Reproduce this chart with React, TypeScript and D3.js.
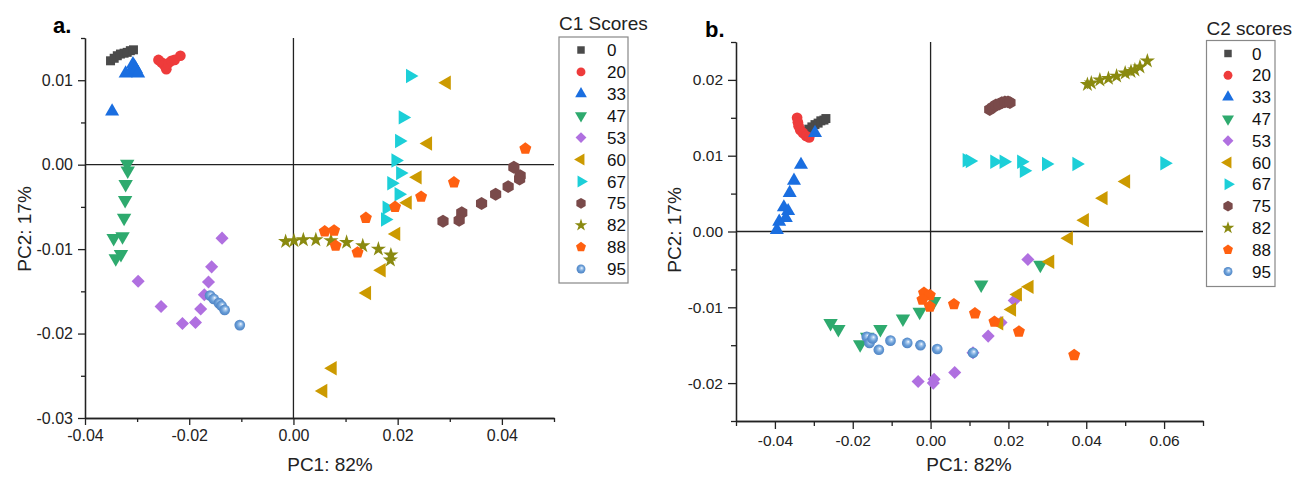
import { useEffect, useRef } from 'react';
import * as d3 from 'd3';

type Pt = [number, number];

// score groups (legend order)
const scoreLabels = ['0', '20', '33', '47', '53', '60', '67', '75', '82', '88', '95'];
const scoreColors = ['#4a4a4a', '#ee3b3b', '#1a6ee0', '#2eaa6e', '#b070e0', '#cc9a00', '#1ccfd8', '#7a4a4a', '#8a8a10', '#ff6010', '#6a9fd8'];

// panel a: C1 scores
const c1_0: Pt[] = [[-0.0351, 0.0123], [-0.0344, 0.0126], [-0.0338, 0.0129], [-0.0332, 0.0131], [-0.0325, 0.0132], [-0.0319, 0.0133], [-0.0313, 0.0135], [-0.0307, 0.0136]];
const c1_20: Pt[] = [[-0.0259, 0.0124], [-0.0253, 0.0121], [-0.0248, 0.0118], [-0.0244, 0.0113], [-0.024, 0.012], [-0.0234, 0.0123], [-0.0228, 0.0124], [-0.0217, 0.0129]];
const c1_33: Pt[] = [[-0.0348, 0.0063], [-0.0322, 0.0108], [-0.0314, 0.0109], [-0.0306, 0.0109], [-0.0305, 0.0116], [-0.0308, 0.0119], [-0.0302, 0.0113], [-0.0298, 0.0108]];
const c1_47: Pt[] = [[-0.0319, 0.0001], [-0.0318, -0.0007], [-0.0322, -0.0023], [-0.0323, -0.0042], [-0.0325, -0.0063], [-0.0345, -0.0087], [-0.0328, -0.0085], [-0.0341, -0.0111], [-0.0331, -0.0106]];
const c1_53: Pt[] = [[-0.0137, -0.0087], [-0.0157, -0.0121], [-0.0163, -0.0139], [-0.0171, -0.0154], [-0.0298, -0.0138], [-0.0254, -0.0168], [-0.0178, -0.0171], [-0.0213, -0.0188], [-0.0188, -0.0187]];
const c1_60: Pt[] = [[0.0294, 0.0097], [0.0258, 0.0025], [0.0238, -0.0015], [0.0219, -0.0045], [0.0197, -0.0082], [0.0169, -0.0125], [0.0141, -0.0152], [0.0075, -0.0241], [0.0057, -0.0268]];
const c1_67: Pt[] = [[0.0224, 0.0105], [0.021, 0.0056], [0.0203, 0.0028], [0.0196, 0.0005], [0.0205, -0.001], [0.0188, -0.0022], [0.0202, -0.0035], [0.0179, -0.0051], [0.0176, -0.0065]];
const c1_75: Pt[] = [[0.0423, -0.0003], [0.0435, -0.0013], [0.0434, -0.0017], [0.0412, -0.0026], [0.0388, -0.0035], [0.0361, -0.0046], [0.0323, -0.0057], [0.0318, -0.0066], [0.0287, -0.0067]];
const c1_82: Pt[] = [[-0.0015, -0.0091], [0.0001, -0.009], [0.0019, -0.0089], [0.0043, -0.0089], [0.0072, -0.009], [0.0102, -0.0092], [0.0133, -0.0096], [0.0163, -0.01], [0.0187, -0.0107], [0.0186, -0.0113]];
const c1_88: Pt[] = [[0.0445, 0.0019], [0.0308, -0.0021], [0.0245, -0.0038], [0.0195, -0.005], [0.0139, -0.0063], [0.006, -0.0079], [0.0078, -0.0078], [0.0081, -0.0096], [0.0123, -0.0104]];
const c1_95: Pt[] = [[-0.016, -0.0155], [-0.0153, -0.0159], [-0.0143, -0.0164], [-0.0138, -0.0167], [-0.0132, -0.0172], [-0.0103, -0.019]];

// panel b: C2 scores
const c2_0: Pt[] = [[-0.0323, 0.0132], [-0.0313, 0.0135], [-0.0305, 0.0138], [-0.0297, 0.0141], [-0.0289, 0.0143], [-0.0282, 0.0146], [-0.0274, 0.0147], [-0.0269, 0.0149]];
const c2_20: Pt[] = [[-0.0343, 0.015], [-0.0341, 0.0144], [-0.0339, 0.0139], [-0.0335, 0.0134], [-0.0328, 0.013], [-0.032, 0.0126], [-0.0312, 0.0124]];
const c2_33: Pt[] = [[-0.0395, 0.0002], [-0.0389, 0.0013], [-0.0372, 0.0018], [-0.0377, 0.0032], [-0.0366, 0.0027], [-0.0362, 0.0051], [-0.0351, 0.0067], [-0.0333, 0.0088], [-0.0297, 0.013]];
const c2_47: Pt[] = [[0.0282, -0.0044], [0.013, -0.007], [0.0009, -0.0092], [-0.0028, -0.0106], [-0.0071, -0.0115], [-0.0129, -0.0129], [-0.0163, -0.0139], [-0.0181, -0.0149], [-0.0237, -0.0129], [-0.0257, -0.0121]];
const c2_53: Pt[] = [[0.025, -0.0037], [0.0215, -0.0091], [0.0181, -0.012], [0.0148, -0.0138], [0.0109, -0.016], [0.0062, -0.0186], [0.0009, -0.0195], [0.0007, -0.02], [-0.0032, -0.0198]];
const c2_60: Pt[] = [[0.0502, 0.0066], [0.0444, 0.0044], [0.0396, 0.0015], [0.0355, -0.0009], [0.0307, -0.004], [0.0254, -0.0073], [0.0224, -0.0083], [0.0209, -0.0103], [0.0176, -0.0121]];
const c2_67: Pt[] = [[0.0093, 0.0094], [0.0101, 0.0093], [0.0164, 0.0092], [0.0188, 0.0092], [0.0233, 0.0092], [0.024, 0.008], [0.0297, 0.0089], [0.0375, 0.0089], [0.0601, 0.009]];
const c2_75: Pt[] = [[0.0152, 0.0161], [0.016, 0.0164], [0.0168, 0.0167], [0.0176, 0.0168], [0.0183, 0.017], [0.0191, 0.0171], [0.0199, 0.0171], [0.0204, 0.017]];
const c2_82: Pt[] = [[0.0403, 0.0194], [0.0413, 0.0196], [0.0435, 0.02], [0.0457, 0.0202], [0.0478, 0.0205], [0.05, 0.0209], [0.0515, 0.0211], [0.0525, 0.0213], [0.0538, 0.0217], [0.0557, 0.0225]];
const c2_88: Pt[] = [[-0.0017, -0.0081], [-0.0002, -0.0084], [-0.0021, -0.009], [-0.0002, -0.0099], [0.006, -0.0096], [0.0114, -0.0108], [0.0164, -0.0119], [0.0227, -0.0132], [0.0369, -0.0163]];
const c2_95: Pt[] = [[-0.0164, -0.0139], [-0.0157, -0.0147], [-0.0149, -0.0141], [-0.0133, -0.0156], [-0.0103, -0.0144], [-0.006, -0.0147], [-0.0026, -0.015], [0.0017, -0.0155], [0.0109, -0.016]];

const c1Series = [c1_0, c1_20, c1_33, c1_47, c1_53, c1_60, c1_67, c1_75, c1_82, c1_88, c1_95];
const c2Series = [c2_0, c2_20, c2_33, c2_47, c2_53, c2_60, c2_67, c2_75, c2_82, c2_88, c2_95];

const FONT = '"Liberation Sans", Arial, sans-serif';
const INK = '#222';

// regular polygon symbol, first vertex pointing up
const polygon = (n: number): d3.SymbolType => ({
  draw(ctx: any, size: number) {
    const r = Math.sqrt(size / ((n / 2) * Math.sin((2 * Math.PI) / n)));
    for (let i = 0; i < n; i++) {
      const a = -Math.PI / 2 + (i * 2 * Math.PI) / n;
      const x = r * Math.cos(a);
      const y = r * Math.sin(a);
      if (i === 0) ctx.moveTo(x, y);
      else ctx.lineTo(x, y);
    }
    ctx.closePath();
  },
});

// symbol type + rotation per group
const shapes: { type: d3.SymbolType; rot: number; k: number }[] = [
  { type: d3.symbolSquare, rot: 0, k: 0.9 },
  { type: d3.symbolCircle, rot: 0, k: 1 },
  { type: d3.symbolTriangle, rot: 0, k: 0.95 },
  { type: d3.symbolTriangle, rot: 180, k: 1 },
  { type: d3.symbolSquare, rot: 45, k: 0.95 },
  { type: d3.symbolTriangle, rot: -90, k: 1 },
  { type: d3.symbolTriangle, rot: 90, k: 1 },
  { type: polygon(6), rot: 0, k: 1.2 },
  { type: d3.symbolStar, rot: 0, k: 0.8 },
  { type: polygon(5), rot: 0, k: 1.05 },
  { type: d3.symbolCircle, rot: 0, k: 1 },
];

interface PanelSpec {
  tag: string;
  tagX: number;
  tagY: number;
  series: Pt[][];
  x: d3.ScaleLinear<number, number>;
  y: d3.ScaleLinear<number, number>;
  xMajor: number[];
  xMinor: number[];
  yMajor: number[];
  yMinor: number[];
  tickFont: number;
  tickLen: number;
  xTitleX: number;
  yTitleY: number;
  yTitleX: number;
  legendTitle: string;
  legendTitleY: number;
  legend: { x: number; y: number; w: number; h: number; sym: number; txt: number; y0: number; dy: number };
}

const panels: PanelSpec[] = [
  {
    tag: 'a.', tagX: 53, tagY: 33, series: c1Series,
    x: d3.scaleLinear().domain([-0.04, 0.05]).range([85, 554]),
    y: d3.scaleLinear().domain([-0.03, 0.015]).range([418, 38]),
    xMajor: [-0.04, -0.02, 0, 0.02, 0.04], xMinor: [-0.03, -0.01, 0.01, 0.03, 0.05],
    yMajor: [-0.03, -0.02, -0.01, 0, 0.01], yMinor: [-0.025, -0.015, -0.005, 0.005, 0.015],
    tickFont: 16, tickLen: 7, xTitleX: 330, yTitleY: 229, yTitleX: 31,
    legendTitle: 'C1 Scores', legendTitleY: 29.5,
    legend: { x: 559, y: 37, w: 69, h: 246, sym: 581, txt: 607, y0: 50, dy: 21.9 },
  },
  {
    tag: 'b.', tagX: 705, tagY: 37, series: c2Series,
    x: d3.scaleLinear().domain([-0.05, 0.07]).range([736, 1203]),
    y: d3.scaleLinear().domain([-0.025, 0.025]).range([421, 42]),
    xMajor: [-0.04, -0.02, 0, 0.02, 0.04, 0.06], xMinor: [-0.05, -0.03, -0.01, 0.01, 0.03, 0.05, 0.07],
    yMajor: [-0.02, -0.01, 0, 0.01, 0.02], yMinor: [-0.025, -0.015, -0.005, 0.005, 0.015, 0.025],
    tickFont: 15.5, tickLen: 8, xTitleX: 969, yTitleY: 230, yTitleX: 681,
    legendTitle: 'C2 scores', legendTitleY: 35,
    legend: { x: 1206.5, y: 40.5, w: 68.5, h: 246, sym: 1228, txt: 1252, y0: 53.5, dy: 21.8 },
  },
];

const fmt = (d: d3.NumberValue) => (+d).toFixed(2);

export default function App() {
  const svgRef = useRef<SVGSVGElement>(null);

  useEffect(() => {
    document.body.style.margin = '0';
    if (!svgRef.current) return;
    const svg = d3.select(svgRef.current);
    svg.selectAll('*').remove();

    const defs = svg.append('defs');
    const grad = defs
      .append('radialGradient')
      .attr('id', 'sphere')
      .attr('cx', '50%').attr('cy', '50%').attr('r', '55%')
      .attr('fx', '60%').attr('fy', '38%');
    grad.append('stop').attr('offset', '0%').attr('stop-color', '#ffffff');
    grad.append('stop').attr('offset', '20%').attr('stop-color', '#b4d0f0');
    grad.append('stop').attr('offset', '55%').attr('stop-color', '#6a9fd8');
    grad.append('stop').attr('offset', '100%').attr('stop-color', '#4a7ec0');

    const fillFor = (i: number) => (i === 10 ? 'url(#sphere)' : scoreColors[i]);
    const symPath = (i: number, size: number) =>
      d3.symbol().type(shapes[i].type).size(size * shapes[i].k)();

    panels.forEach((p) => {
      const g = svg.append('g').attr('font-family', FONT);
      const [x0, x1] = p.x.range();
      const [y0, y1] = p.y.range();

      // minor ticks
      g.append('g')
        .attr('transform', `translate(0,${y0})`)
        .call(d3.axisBottom(p.x).tickValues(p.xMinor).tickSize(p.tickLen - 3).tickSizeOuter(0).tickFormat(() => ''));
      g.append('g')
        .attr('transform', `translate(${x0},0)`)
        .call(d3.axisLeft(p.y).tickValues(p.yMinor).tickSize(p.tickLen - 3).tickSizeOuter(0).tickFormat(() => ''));

      // major ticks
      g.append('g')
        .attr('transform', `translate(0,${y0})`)
        .call(d3.axisBottom(p.x).tickValues(p.xMajor).tickSize(p.tickLen).tickPadding(p.tickLen === 7 ? 5 : 6).tickSizeOuter(0).tickFormat(fmt));
      g.append('g')
        .attr('transform', `translate(${x0},0)`)
        .call(d3.axisLeft(p.y).tickValues(p.yMajor).tickSize(p.tickLen).tickPadding(5).tickSizeOuter(0).tickFormat(fmt));

      g.selectAll('.domain, .tick line').attr('stroke', INK).attr('stroke-width', 1.3);
      g.selectAll('.tick text')
        .attr('fill', INK)
        .attr('font-size', p.tickFont)
        .attr('font-family', FONT);

      // zero cross lines
      g.append('line')
        .attr('x1', p.x(0)).attr('x2', p.x(0))
        .attr('y1', y0).attr('y2', y1)
        .attr('stroke', INK).attr('stroke-width', 1.3);
      g.append('line')
        .attr('x1', x0).attr('x2', x1)
        .attr('y1', p.y(0)).attr('y2', p.y(0))
        .attr('stroke', INK).attr('stroke-width', 1.3);

      // points
      p.series.forEach((pts, i) => {
        g.append('g')
          .selectAll('path')
          .data(pts)
          .enter()
          .append('path')
          .attr('d', symPath(i, 90))
          .attr('transform', (d) => `translate(${p.x(d[0])},${p.y(d[1])}) rotate(${shapes[i].rot})`)
          .attr('fill', fillFor(i));
      });

      // titles
      g.append('text')
        .attr('x', p.tagX).attr('y', p.tagY)
        .attr('font-size', 22).attr('font-weight', 700).attr('fill', '#000')
        .text(p.tag);
      g.append('text')
        .attr('x', p.xTitleX).attr('y', 471)
        .attr('text-anchor', 'middle')
        .attr('font-size', 19).attr('fill', INK)
        .text('PC1: 82%');
      g.append('text')
        .attr('transform', `translate(${p.yTitleX},${p.yTitleY}) rotate(-90)`)
        .attr('text-anchor', 'middle')
        .attr('font-size', 19).attr('fill', INK)
        .text('PC2: 17%');

      // legend
      const L = p.legend;
      g.append('text')
        .attr('x', L.x).attr('y', p.legendTitleY)
        .attr('font-size', 19).attr('fill', INK)
        .text(p.legendTitle);
      g.append('rect')
        .attr('x', L.x).attr('y', L.y)
        .attr('width', L.w).attr('height', L.h)
        .attr('fill', 'none').attr('stroke', '#888').attr('stroke-width', 1.2);
      const items = g
        .append('g')
        .selectAll('g')
        .data(scoreLabels)
        .enter()
        .append('g')
        .attr('transform', (_d, i) => `translate(0,${L.y0 + i * L.dy})`);
      items
        .append('path')
        .attr('d', (_d, i) => symPath(i, 62))
        .attr('transform', (_d, i) => `translate(${L.sym},0) rotate(${shapes[i].rot})`)
        .attr('fill', (_d, i) => fillFor(i));
      items
        .append('text')
        .attr('x', L.txt)
        .attr('dy', '0.36em')
        .attr('font-size', 17)
        .attr('fill', '#111')
        .text((d) => d);
    });
  }, []);

  return <svg ref={svgRef} width={1294} height={477} style={{ display: 'block', background: '#fff' }} />;
}
